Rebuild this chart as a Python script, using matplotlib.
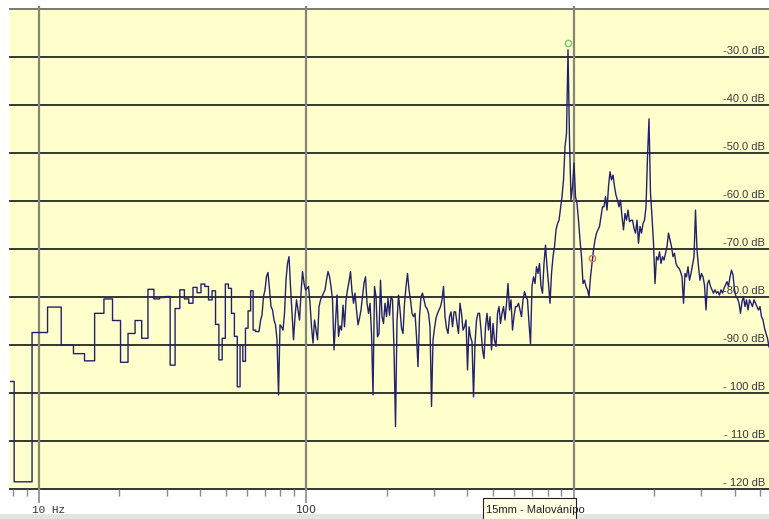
"""Spectrum analyser screenshot: 15mm - Malování."""
import numpy as np
import matplotlib
matplotlib.use('Agg')
import matplotlib.pyplot as plt
from matplotlib.patches import Rectangle
from matplotlib.transforms import blended_transform_factory

# FFT bin spacing (44.1 kHz, 32768 points)
bin_hz = 44100 / 32768

# lowest bins, drawn as steps (bin index -> level in dB)
step_bins = np.arange(5, 49)
step_db = [-97.6, -118.5, -87.4, -82.1, -90.0, -91.8, -93.3, -83.4, -80.4, -84.9,
           -93.6, -87.6, -84.9, -88.6, -78.4, -80.4, -80.1, -79.9, -94.2, -82.4,
           -78.5, -80.4, -81.3, -78.0, -79.1, -77.3, -77.8, -80.6, -78.7, -85.7,
           -93.1, -88.6, -77.3, -78.2, -83.4, -88.2, -98.7, -90.0, -93.4, -86.5,
           -82.9, -78.7, -86.9, -87.2]

# rest of the trace at even log spacing
line_start_hz = 66.55
line_end_hz = 5382
line_db = [
    # 66 Hz ..
    -87.2, -84.9, -83.7, -79.9, -78.5, -75.7, -74.9, -78.5, -82.0, -82.7,
    -84.8, -85.8, -88.9, -100.4, -85.8, -86.2, -86.9, -83.4, -76.4, -73.0,
    -71.6, -77.8, -83.4, -88.9, -84.1, -80.6, -82.7, -84.8, -79.2, -74.7,
    -77.1, -78.5, -78.2, -77.8, -81.3, -86.2, -89.6, -84.8, -86.9, -88.9,
    -82.0, -80.6, -79.9, -79.2, -78.5, -76.4, -74.7, -75.7, -77.8, -80.6,
    -91.0, -85.5, -79.6, -88.2, -86.0,
    # 150 Hz ..
    -86.9, -81.7, -86.2, -80.6, -78.5, -76.8, -74.7, -78.9, -81.3, -79.2,
    -82.7, -85.8, -84.4, -82.7, -79.9, -77.1, -75.8, -81.3, -83.4, -81.3,
    -87.6, -100.4, -77.8, -79.9, -88.3, -87.6, -76.5, -84.1, -85.5, -81.3,
    -84.1, -80.3, -83.8, -79.9, -80.6, -91.0, -107.0, -85.0, -79.6, -82.7,
    -86.5, -87.6, -81.3, -77.8, -75.1, -78.5, -80.6, -83.4, -84.1, -83.4,
    -88.3, -94.5, -84.1, -79.9, -79.2, -80.6, -82.0, -82.4, -83.4, -86.2,
    -102.8, -89.0, -86.5, -84.4, -83.4, -82.7, -82.0, -80.6, -77.8, -84.1,
    -86.5, -87.6, -84.1, -83.1, -86.2, -83.1, -83.1, -85.5, -87.6, -81.3,
    -83.4, -86.9, -86.2, -84.8, -95.2, -86.2, -88.3, -89.3, -100.8, -89.7,
    -84.8, -83.4,
    # 450 Hz ..
    -83.4, -86.9, -91.0, -92.8, -86.2, -83.4, -86.9, -84.1, -91.0, -85.5,
    -89.0, -90.3, -83.4, -82.0, -85.5, -83.4, -82.0, -84.8, -81.3, -77.2,
    -82.7, -80.6, -86.9, -84.0, -82.0, -82.0, -81.3, -82.7, -84.1, -80.6,
    -78.9, -79.9, -80.6, -85.5, -89.7, -77.8, -75.8, -77.2, -73.7, -75.1,
    -73.0, -77.8, -79.2, -73.0, -69.2, -73.7, -77.2, -81.3, -75.1, -71.6,
    -69.5, -66.0, -64.7, -64.0,
    # 880 Hz .. main peak
    -61.5, -59.1, -55.6, -48.7, -45.9, -28.5, -47.3, -59.8, -57.0, -52.1,
    -59.1, -60.5, -64.0, -68.1, -71.6, -77.2, -76.5, -77.8, -78.5, -79.9,
    -75.8, -73.0, -70.2, -68.1, -66.7, -66.0, -65.3, -63.3, -61.2, -61.2,
    -59.1, -61.9, -57.0, -53.9, -55.6, -54.6, -57.0, -58.8, -59.8, -61.2,
    -59.8, -63.3, -66.0, -62.6, -64.0, -61.9, -64.3, -64.0, -64.0, -65.7,
    -66.7, -64.0, -68.8, -65.3, -66.7, -64.7, -64.0, -61.2, -50.8, -42.9,
    -58.4, -63.3, -68.8, -77.2, -71.6, -72.3, -70.6, -73.0, -71.6, -72.3,
    -70.9, -69.5, -66.7, -68.1, -69.5, -71.6, -70.9, -73.0, -73.7, -74.0,
    -74.7, -75.8, -81.3, -75.1, -75.8, -73.7, -76.5, -75.1, -73.3, -71.6,
    -61.9, -70.2, -73.7, -76.5, -75.1, -75.8, -77.5, -82.7, -77.2, -76.5,
    -77.8, -78.5, -79.2, -78.5, -79.2, -78.9, -79.6, -78.5, -79.2, -78.2,
    -77.5, -76.8, -77.8, -75.8, -74.4, -75.4, -78.5, -79.9, -80.3, -81.3,
    -83.4, -81.0, -79.9, -82.0, -80.6, -82.7, -80.6, -81.3, -82.0, -80.6,
    -81.3, -82.0, -82.7, -82.0, -84.1, -84.8, -86.5, -87.6, -88.6, -90.4]

freq_min, freq_max = 7.791, 5382
db_min, db_max = -120, -20
db_lines = np.arange(-20, -121, -10)
db_ticks = np.arange(-30, -121, -10)
db_labels = ['-30.0 dB', '-40.0 dB', '-50.0 dB', '-60.0 dB', '-70.0 dB',
             '-80.0 dB', '-90.0 dB', '- 100 dB', '- 110 dB', '- 120 dB']
decades = [10, 100, 1000]

peak_marker = (953.0, -27.1)
cursor_marker = (1168.7, -71.9)
caption = '15mm - Malovánípo'

# build the trace: stairs for the low bins, then the line
edges = np.append(step_bins, step_bins[-1] + 1) * bin_hz
step_x = np.repeat(edges, 2)[1:-1]
step_y = np.repeat(step_db, 2)
line_f = np.geomspace(line_start_hz, line_end_hz, len(line_db))
trace_x = np.concatenate([step_x, line_f])
trace_y = np.concatenate([step_y, line_db])

W, H = 769, 519
fig = plt.figure(figsize=(W / 100, H / 100), dpi=100, facecolor='white')
ax = fig.add_axes([10 / W, 30 / H, 759 / W, 480 / H])
ax.set_facecolor('#ffffcc')
ax.set_xscale('log')
ax.set_xlim(freq_min, freq_max)
ax.set_ylim(db_min, db_max)
for s in ax.spines.values():
    s.set_visible(False)

# grid
for v in db_lines:
    c = '#6f6f60' if v == db_max else '#262626'
    ax.axhline(v, color=c, lw=1.3, zorder=1, clip_on=False)
for f in decades:
    ax.axvline(f, ymin=0, ymax=1.004, color='#85857a', lw=1.6, zorder=1, clip_on=False)

# level labels on the right
ytrans = blended_transform_factory(ax.transAxes, ax.transData)
for v, lab in zip(db_ticks, db_labels):
    ax.annotate(lab, xy=(1, v), xycoords=ytrans, xytext=(-4, 1.5),
                textcoords='offset pixels', ha='right', va='bottom',
                fontsize=8, family='Liberation Sans', color='#3a3a3a', zorder=2)

# trace and markers
ax.plot(trace_x, trace_y, color='#22226c', lw=1.0, zorder=3)
ax.plot(*peak_marker, 'o', mfc='none', mec='#74c864', ms=4.5, mew=1.0, zorder=4)
ax.plot(*cursor_marker, 'o', mfc='none', mec='#e07848', ms=4.5, mew=1.0, zorder=4)

# frequency ticks below
ax.set_xticks(decades)
ax.set_xticks([m * d for d in [1, 10, 100, 1000] for m in range(2, 10)
               if freq_min < m * d < freq_max], minor=True)
ax.tick_params(axis='x', which='major', length=10, width=1.2, color='#8a8a8a',
               labelbottom=False)
ax.tick_params(axis='x', which='minor', length=5, width=1.0, color='#8a8a8a',
               labelbottom=False)
ax.tick_params(axis='y', left=False, labelleft=False)

xtrans = blended_transform_factory(ax.transData, ax.transAxes)
ax.text(9.415, -0.044, '10 Hz', transform=xtrans, ha='left', va='center',
        fontsize=8, family='Liberation Mono', color='#333333')
ax.text(100, -0.044, '100', transform=xtrans, ha='center', va='center',
        fontsize=8, family='DejaVu Sans', color='#333333')

# status strip and tooltip at the bottom
fig.patches.append(Rectangle((0, 0), 1, 5 / H, transform=fig.transFigure,
                             facecolor='#e4e4e4', edgecolor='none', zorder=0))
fig.patches.append(Rectangle((483 / W, -0.01), 93 / W, 21 / H + 0.01,
                             transform=fig.transFigure, facecolor='#ffffe6',
                             edgecolor='#202020', lw=0.8, zorder=5))
fig.text(486 / W, 6 / H, caption, fontsize=8, family='Liberation Sans',
         color='#202020', zorder=6)

fig.savefig('out.png', dpi=100, facecolor='white')
